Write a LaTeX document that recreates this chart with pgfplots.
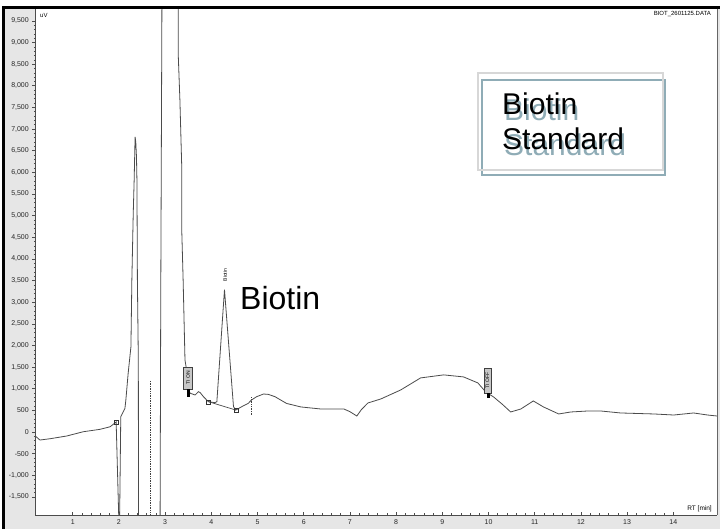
\documentclass[border=0pt]{standalone}
\usepackage{pgfplots}
\pgfplotsset{compat=1.18}
\usepackage{fontspec}
\setmainfont{Liberation Sans}
\definecolor{stripgray}{RGB}{230,230,230}
\definecolor{shadowblue}{RGB}{143,172,182}
\definecolor{framegray}{RGB}{215,215,215}
\definecolor{tracegray}{RGB}{75,75,75}
\begin{document}
\begin{tikzpicture}
\path[use as bounding box] (0pt,0pt) rectangle (720pt,529pt);
\begin{scope}[x=1pt,y=-1pt,yshift=529pt]
\fill[stripgray] (4.7,8.7) rectangle (720,529);
\end{scope}
\begin{axis}[
  scale only axis, width=681.7pt, height=506.3pt,
  at={(35.3pt,14pt)}, anchor=south west,
  xmin=0.19, xmax=14.946, ymin=-1917, ymax=9780,
  axis background/.style={fill=white},
  axis x line*=bottom, axis y line*=left,
  axis line style={black!70, line width=0.6pt},
  xtick={1,...,14}, ytick={-1500,-1000,...,9500},
  minor x tick num=4, minor y tick num=4,
  ytick align=outside, xtick align=inside,
  major tick length=3pt, minor tick length=1.5pt,
  tick style={black!70, line width=0.5pt},
  /pgf/number format/assume math mode=true,
  /pgf/number format/.cd, 1000 sep={,}, /pgfplots/.cd,
  tick label style={font=\fontsize{7}{8}\selectfont, text=black!85},
  xticklabel style={yshift=-1.5pt},
  clip=true,
]
\addplot[tracegray, line width=0.8pt] coordinates {
(0.19,-92) (0.29,-185) (0.51,-155) (0.87,-92) (1.23,7) (1.59,62) (1.81,122) (1.94,231)
(2.01,-2500) (2.04,353) (2.13,546) (2.15,739) (2.20,1355) (2.23,1663) (2.26,1970)
(2.28,3510) (2.31,5050) (2.33,5820) (2.35,6820) (2.365,6700) (2.38,6360) (2.39,5820)
(2.40,3510) (2.42,1663) (2.425,-2500) (2.89,-2500) (2.905,3000) (2.92,7000) (2.935,11000)
(3.28,11000) (3.286,8660) (3.32,7670) (3.36,6120) (3.36,4670) (3.39,3510) (3.43,1663)
(3.47,1400) (3.50,950) (3.55,893) (3.65,855) (3.72,932) (3.76,909) (3.83,816) (3.90,739)
(3.94,700) (4.08,678) (4.12,700) (4.285,3290) (4.48,586) (4.53,508) (4.66,586) (4.80,663)
(4.87,740) (4.98,816) (5.13,878) (5.23,870) (5.38,816) (5.50,740) (5.63,660) (5.94,579)
(6.37,532) (6.87,532) (7.00,470) (7.15,370) (7.25,520) (7.39,671) (7.67,764) (8.10,972)
(8.53,1250) (9.03,1320) (9.46,1273) (9.77,1134) (9.94,926) (10.11,810) (10.30,640)
(10.48,463) (10.70,532) (10.97,718) (11.19,579) (11.52,417) (11.78,463) (12.15,486)
(12.43,486) (12.86,440) (13.58,417) (14.01,393) (14.44,440) (14.74,393) (14.946,370)
};
\addplot[tracegray, line width=0.7pt] coordinates {(3.94,700) (4.53,508)};
\addplot[only marks, mark=square, mark size=2pt, black!80, mark options={fill=white}] coordinates {(1.94,231) (3.94,700) (4.53,508)};
\addplot[black!75, densely dotted, line width=0.7pt] coordinates {(2.69,1180) (2.69,-1917)};
\addplot[black!75, densely dotted, line width=0.7pt] coordinates {(4.87,800) (4.87,390)};
\node[draw=black!75, fill=black!22, rotate=90, font=\fontsize{5}{5}\selectfont, inner sep=0.5pt, minimum width=22pt, minimum height=9pt] at (axis cs:3.496,1247) {TI ON};
\fill[black] (axis cs:3.465,1000) rectangle (axis cs:3.53,808);
\node[draw=black!75, fill=black!22, rotate=90, font=\fontsize{5}{5}\selectfont, inner sep=0.5pt, minimum width=25pt, minimum height=7pt] at (axis cs:9.978,1189) {TI OFF};
\fill[black] (axis cs:9.96,900) rectangle (axis cs:10.03,785);
\node[rotate=90, font=\fontsize{5}{5}\selectfont, inner sep=0pt] at (axis cs:4.30,3626) {Biotin};
\end{axis}
\begin{scope}[x=1pt,y=-1pt,yshift=529pt]
\draw[line width=2.5pt] (3.7,529) -- (3.7,7.3) -- (720,7.3);
\draw[black!60, line width=0.8pt] (717,8.7) -- (717,515);
\node[anchor=west, font=\fontsize{6}{6}\selectfont, inner sep=0pt] at (40,15) {uV};
\node[anchor=east, font=\fontsize{6}{6}\selectfont, inner sep=0pt] at (711,14) {BIOT\_2601125.DATA};
\node[anchor=east, font=\fontsize{6.5}{6.5}\selectfont, inner sep=0pt] at (712,509) {RT [min]};
\node[anchor=base west, font=\fontsize{32}{32}\selectfont, inner sep=0pt] at (240,310) {Biotin};
% box
\draw[shadowblue, line width=2.3pt] (481.7,80) rectangle (665,175);
\draw[framegray, line width=2.3pt] (478.3,73.3) rectangle (662.7,170);
\node[anchor=base west, font=\fontsize{30}{30}\selectfont, inner sep=0pt, text=shadowblue] at (504,121) {Biotin};
\node[anchor=base west, font=\fontsize{30}{30}\selectfont, inner sep=0pt, text=shadowblue] at (504,156) {Standard};
\node[anchor=base west, font=\fontsize{30}{30}\selectfont, inner sep=0pt] at (502,115) {Biotin};
\node[anchor=base west, font=\fontsize{30}{30}\selectfont, inner sep=0pt] at (502,150) {Standard};
\end{scope}
\end{tikzpicture}
\end{document}
